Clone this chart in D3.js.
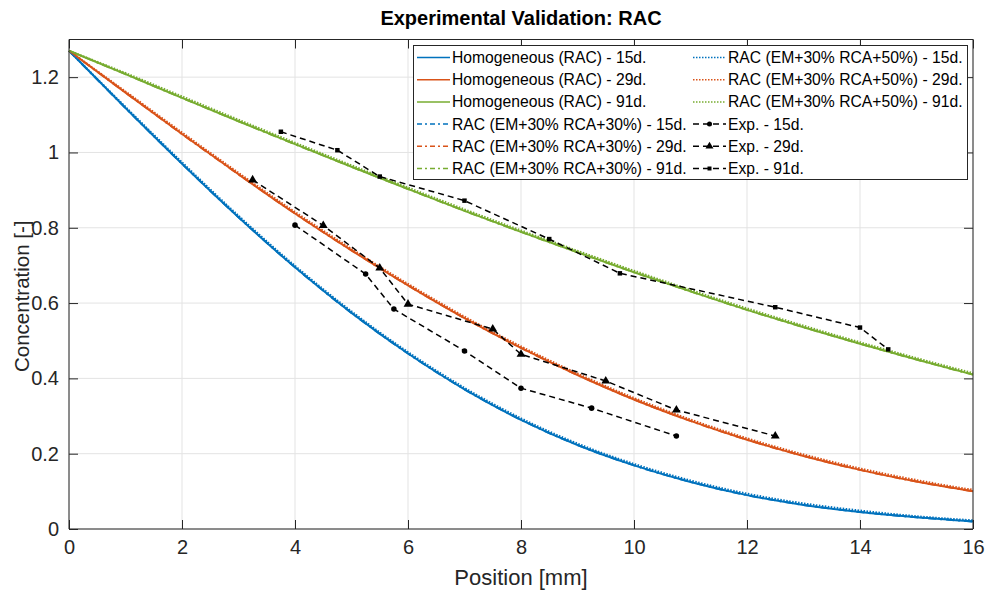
<!DOCTYPE html>
<html>
<head>
<meta charset="utf-8">
<script src="https://cdn.jsdelivr.net/npm/d3@7"></script>
<style>
  body { margin: 0; background: #fff; }
  svg { display: block; font-family: "Liberation Sans", Arial, Helvetica, sans-serif; }
</style>
</head>
<body>
<div id="graph"></div>
<script>
const width = 990
const height = 591
const margin = {left: 69, right: 17, top: 39.5, bottom: 62}

// position [mm] where the model curves were read
const positions = [0, 1, 2, 3, 4, 5, 6, 7, 8, 9, 10, 11, 12, 13, 14, 15, 16]

// homogeneous model
const homog15 = [1.270, 1.118, 0.970, 0.828, 0.695, 0.574, 0.466, 0.371, 0.290, 0.223, 0.169, 0.125, 0.090, 0.064, 0.045, 0.031, 0.020]
const homog29 = [1.270, 1.159, 1.049, 0.942, 0.838, 0.740, 0.647, 0.560, 0.481, 0.409, 0.344, 0.287, 0.237, 0.194, 0.157, 0.126, 0.100]
const homog91 = [1.270, 1.208, 1.145, 1.083, 1.022, 0.962, 0.903, 0.845, 0.789, 0.735, 0.682, 0.631, 0.582, 0.536, 0.492, 0.450, 0.410]

// RAC (EM+30% RCA+30%)
const rca30_15 = [1.270, 1.118, 0.970, 0.828, 0.695, 0.574, 0.466, 0.371, 0.290, 0.223, 0.169, 0.125, 0.090, 0.064, 0.045, 0.031, 0.020]
const rca30_29 = [1.270, 1.159, 1.049, 0.942, 0.838, 0.740, 0.647, 0.560, 0.481, 0.409, 0.344, 0.287, 0.237, 0.194, 0.157, 0.126, 0.100]
const rca30_91 = [1.270, 1.208, 1.145, 1.083, 1.022, 0.962, 0.903, 0.845, 0.789, 0.735, 0.682, 0.631, 0.582, 0.536, 0.492, 0.450, 0.410]

// RAC (EM+30% RCA+50%)
const rca50_15 = [1.270, 1.121, 0.974, 0.832, 0.699, 0.578, 0.470, 0.375, 0.294, 0.227, 0.173, 0.129, 0.094, 0.068, 0.049, 0.034, 0.023]
const rca50_29 = [1.270, 1.162, 1.053, 0.946, 0.842, 0.744, 0.651, 0.564, 0.485, 0.413, 0.348, 0.291, 0.241, 0.198, 0.161, 0.130, 0.104]
const rca50_91 = [1.270, 1.211, 1.149, 1.087, 1.026, 0.966, 0.907, 0.849, 0.793, 0.739, 0.686, 0.635, 0.586, 0.540, 0.496, 0.454, 0.414]

// experimental points
const exp15x = [4.0, 5.25, 5.75, 7.0, 8.0, 9.25, 10.75]
const exp15y = [0.807, 0.677, 0.584, 0.473, 0.374, 0.321, 0.247]
const exp29x = [3.25, 4.5, 5.5, 6.0, 7.5, 8.0, 9.5, 10.75, 12.5]
const exp29y = [0.927, 0.806, 0.693, 0.597, 0.531, 0.464, 0.393, 0.316, 0.247]
const exp91x = [3.75, 4.75, 5.5, 7.0, 8.5, 9.75, 12.5, 14.0, 14.5]
const exp91y = [1.055, 1.006, 0.936, 0.872, 0.770, 0.679, 0.589, 0.535, 0.477]

const xTicks = [0, 2, 4, 6, 8, 10, 12, 14, 16]
const yTicks = [0, 0.2, 0.4, 0.6, 0.8, 1, 1.2]

const blue = '#0072BD'
const orange = '#D95319'
const green = '#77AC30'

const svg = d3.select('#graph')
  .append('svg')
  .attr('width', width)
  .attr('height', height)

const xScale = d3.scaleLinear().domain([0, 16]).range([margin.left, width - margin.right])
const yScale = d3.scaleLinear().domain([0, 1.3]).range([height - margin.bottom, margin.top])

const plotW = width - margin.right - margin.left
const plotH = height - margin.bottom - margin.top

// grid
svg.append('g')
  .selectAll('line')
  .data(xTicks)
  .join('line')
  .attr('x1', d => xScale(d)).attr('x2', d => xScale(d))
  .attr('y1', margin.top).attr('y2', height - margin.bottom)
  .attr('stroke', '#e3e3e3').attr('stroke-width', 1)
svg.append('g')
  .selectAll('line')
  .data(yTicks)
  .join('line')
  .attr('y1', d => yScale(d)).attr('y2', d => yScale(d))
  .attr('x1', margin.left).attr('x2', width - margin.right)
  .attr('stroke', '#e3e3e3').attr('stroke-width', 1)

// model curves
const line = d3.line()
  .x((d, i) => xScale(positions[i]))
  .y(d => yScale(d))
  .curve(d3.curveMonotoneX)

const models = [
  {values: homog15, color: blue, dash: null},
  {values: homog29, color: orange, dash: null},
  {values: homog91, color: green, dash: null},
  {values: rca30_15, color: blue, dash: '8,4,2,4'},
  {values: rca30_29, color: orange, dash: '8,4,2,4'},
  {values: rca30_91, color: green, dash: '8,4,2,4'},
  {values: rca50_15, color: blue, dash: '1.5,1.5'},
  {values: rca50_29, color: orange, dash: '1.5,1.5'},
  {values: rca50_91, color: green, dash: '1.5,1.5'}
]

svg.append('g')
  .selectAll('path')
  .data(models)
  .join('path')
  .attr('d', d => line(d.values))
  .attr('fill', 'none')
  .attr('stroke', d => d.color)
  .attr('stroke-width', 2)
  .attr('stroke-dasharray', d => d.dash)

// experiments
const expLine = d3.line().x(d => xScale(d[0])).y(d => yScale(d[1]))
const exps = [
  {pts: d3.zip(exp15x, exp15y), sym: d3.symbolCircle, size: 24},
  {pts: d3.zip(exp29x, exp29y), sym: d3.symbolTriangle, size: 34},
  {pts: d3.zip(exp91x, exp91y), sym: d3.symbolSquare, size: 20}
]

exps.forEach(e => {
  svg.append('path')
    .attr('d', expLine(e.pts))
    .attr('fill', 'none')
    .attr('stroke', '#000')
    .attr('stroke-width', 1.5)
    .attr('stroke-dasharray', '6,4')
  svg.append('g')
    .selectAll('path')
    .data(e.pts)
    .join('path')
    .attr('transform', d => `translate(${xScale(d[0])},${yScale(d[1])})`)
    .attr('d', d3.symbol(e.sym, e.size))
    .attr('fill', '#000')
})

// axes box with inward ticks
const axisColor = '#262626'
const tickLen = 9
const xAxisB = d3.axisBottom(xScale).tickValues(xTicks).tickSize(-tickLen).tickPadding(11).tickFormat(d3.format('d'))
const xAxisT = d3.axisTop(xScale).tickValues(xTicks).tickSize(-tickLen).tickFormat('')
const yAxisL = d3.axisLeft(yScale).tickValues(yTicks).tickSize(-tickLen).tickPadding(10).tickFormat(d => d === 0 || d === 1 ? d : d3.format('.1f')(d))
const yAxisR = d3.axisRight(yScale).tickValues(yTicks).tickSize(-tickLen).tickFormat('')

const styleAxis = g => {
  g.selectAll('path').attr('stroke', axisColor).attr('stroke-width', 1)
  g.selectAll('line').attr('stroke', axisColor).attr('stroke-width', 1)
  g.selectAll('text').attr('fill', axisColor).attr('font-size', 20).attr('font-family', null)
}

svg.append('g').attr('transform', `translate(0,${height - margin.bottom})`).call(xAxisB).call(styleAxis)
  .call(g => g.select('.domain').attr('d', `M${margin.left},0H${width - margin.right}`))
svg.append('g').attr('transform', `translate(0,${margin.top})`).call(xAxisT).call(styleAxis)
  .call(g => g.select('.domain').attr('d', `M${margin.left},0H${width - margin.right}`))
svg.append('g').attr('transform', `translate(${margin.left},0)`).call(yAxisL).call(styleAxis)
  .call(g => g.select('.domain').attr('d', `M0,${margin.top}V${height - margin.bottom}`))
svg.append('g').attr('transform', `translate(${width - margin.right},0)`).call(yAxisR).call(styleAxis)
  .call(g => g.select('.domain').attr('d', `M0,${margin.top}V${height - margin.bottom}`))

// labels
svg.append('text')
  .attr('x', margin.left + plotW / 2).attr('y', 585)
  .attr('text-anchor', 'middle').attr('font-size', 22).attr('fill', axisColor)
  .text('Position [mm]')
svg.append('text')
  .attr('transform', `translate(29,${margin.top + plotH / 2 + 12}) rotate(-90)`)
  .attr('text-anchor', 'middle').attr('font-size', 20.5).attr('fill', axisColor)
  .text('Concentration [-]')
svg.append('text')
  .attr('x', margin.left + plotW / 2).attr('y', 25)
  .attr('text-anchor', 'middle').attr('font-size', 20).attr('font-weight', 'bold').attr('fill', '#000')
  .text('Experimental Validation: RAC')

// legend
const legendCol1 = [
  {label: 'Homogeneous (RAC) - 15d.', color: blue, dash: null},
  {label: 'Homogeneous (RAC) - 29d.', color: orange, dash: null},
  {label: 'Homogeneous (RAC) - 91d.', color: green, dash: null},
  {label: 'RAC (EM+30% RCA+30%) - 15d.', color: blue, dash: '5,3,2,3'},
  {label: 'RAC (EM+30% RCA+30%) - 29d.', color: orange, dash: '5,3,2,3'},
  {label: 'RAC (EM+30% RCA+30%) - 91d.', color: green, dash: '5,3,2,3'}
]
const legendCol2 = [
  {label: 'RAC (EM+30% RCA+50%) - 15d.', color: blue, dash: '1.5,1.5'},
  {label: 'RAC (EM+30% RCA+50%) - 29d.', color: orange, dash: '1.5,1.5'},
  {label: 'RAC (EM+30% RCA+50%) - 91d.', color: green, dash: '1.5,1.5'},
  {label: 'Exp. - 15d.', color: '#000', dash: '6,4', sym: d3.symbolCircle, size: 20},
  {label: 'Exp. - 29d.', color: '#000', dash: '6,4', sym: d3.symbolTriangle, size: 28},
  {label: 'Exp. - 91d.', color: '#000', dash: '6,4', sym: d3.symbolSquare, size: 16}
]

const lg = svg.append('g')
lg.append('rect')
  .attr('x', 413.5).attr('y', 45.5).attr('width', 554).attr('height', 134)
  .attr('fill', '#fff').attr('stroke', axisColor).attr('stroke-width', 1)

const rowY = i => 57.5 + i * 22.2
const drawLegendCol = (items, x0) => {
  const g = lg.append('g')
  items.forEach((d, i) => {
    const y = rowY(i)
    g.append('line')
      .attr('x1', x0).attr('x2', x0 + 33).attr('y1', y).attr('y2', y)
      .attr('stroke', d.color).attr('stroke-width', 1.5).attr('stroke-dasharray', d.dash)
    if (d.sym) {
      g.append('path')
        .attr('transform', `translate(${x0 + 16.5},${y})`)
        .attr('d', d3.symbol(d.sym, d.size))
        .attr('fill', '#000')
    }
    g.append('text')
      .attr('x', x0 + 35).attr('y', y).attr('dy', '0.35em')
      .attr('font-size', 15.7).attr('fill', '#000')
      .text(d.label)
  })
}
drawLegendCol(legendCol1, 417)
drawLegendCol(legendCol2, 693)
</script>
</body>
</html>
